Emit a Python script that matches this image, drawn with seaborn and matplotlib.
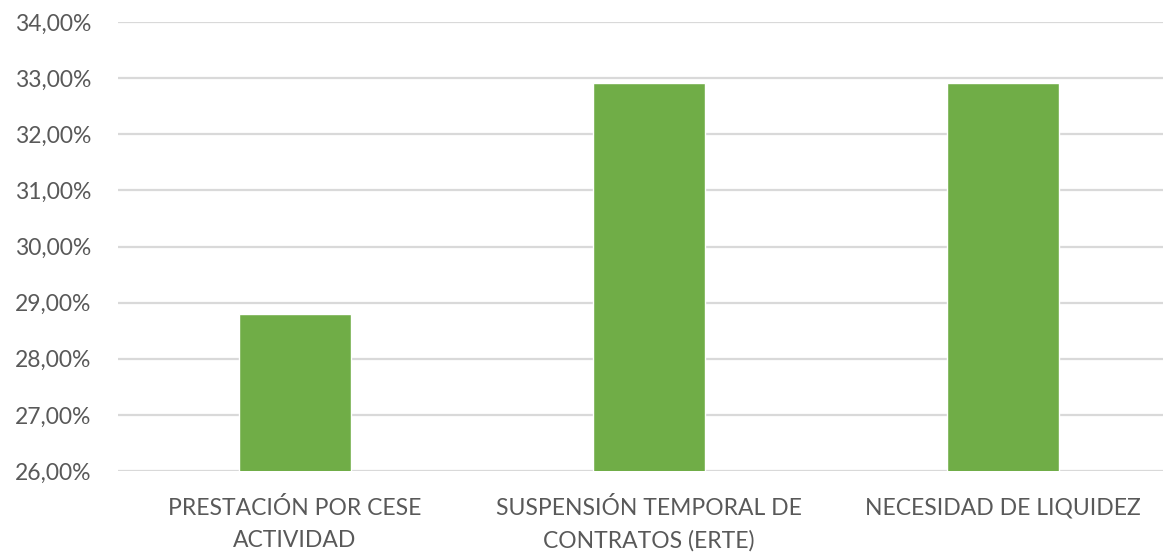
import pandas as pd
import matplotlib.pyplot as plt
import seaborn as sns
from matplotlib.ticker import FuncFormatter

sns.set_theme(style="white")
plt.rcParams['font.family'] = ['Lato', 'DejaVu Sans']

# Data
categories = ['PRESTACIÓN POR CESE\nACTIVIDAD',
              'SUSPENSIÓN TEMPORAL DE\nCONTRATOS (ERTE)',
              'NECESIDAD DE LIQUIDEZ']
values = [28.79, 32.91, 32.91]
y_ticks = [26, 27, 28, 29, 30, 31, 32, 33, 34]

df = pd.DataFrame({'categoria': categories, 'valor': values})

fig = plt.figure(figsize=(11.63, 5.53), dpi=100)
ax = fig.add_axes([118 / 1163, 82 / 553, 1062 / 1163, 449 / 553])

sns.barplot(data=df, x='categoria', y='valor', color='#70AD47',
            width=0.315, saturation=1, ax=ax, zorder=3)

ax.set_ylim(26, 34)
ax.set_yticks(y_ticks)
ax.yaxis.set_major_formatter(FuncFormatter(lambda v, p: f'{v:.2f}%'.replace('.', ',')))
ax.grid(axis='y', color='#D9D9D9', linewidth=1.6, zorder=0)
ax.set_axisbelow(True)
for s in ax.spines.values():
    s.set_visible(False)

ax.tick_params(axis='both', length=0, labelsize=16.5, colors='#595959')
ax.tick_params(axis='y', pad=19)
ax.tick_params(axis='x', pad=19)
for lbl in ax.get_xticklabels():
    lbl.set_linespacing(1.6)
ax.set_xlabel('')
ax.set_ylabel('')

fig.savefig('out.png', dpi=100)
